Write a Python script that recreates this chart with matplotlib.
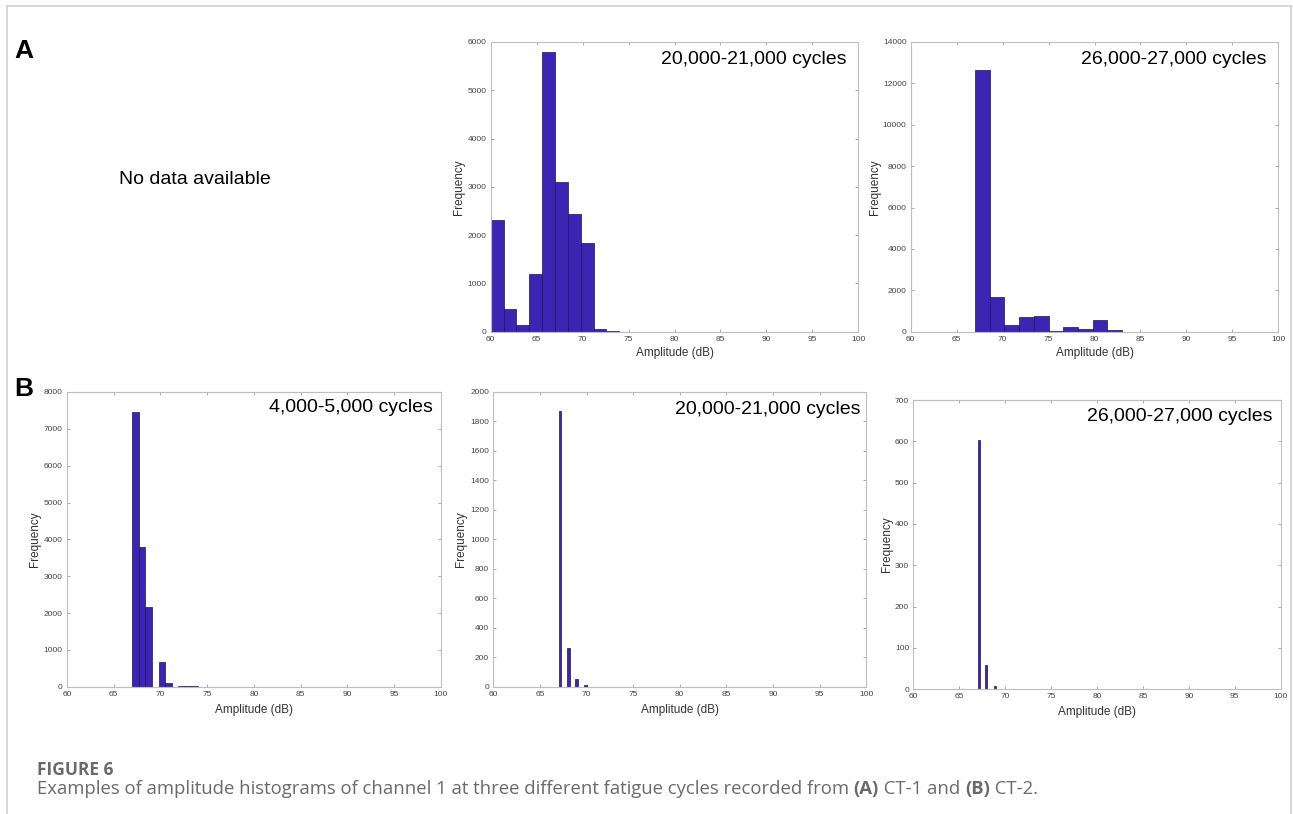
import matplotlib
matplotlib.use("Agg")
import matplotlib.pyplot as plt
from matplotlib.lines import Line2D

# ---- histogram data (bin left edges in dB, counts) ----
a2_lefts = [60.0, 61.4, 62.8, 64.2, 65.6, 67.0, 68.4, 69.8, 71.2, 72.6]
a2_counts = [2320, 475, 145, 1185, 5800, 3105, 2445, 1830, 48, 12]

a3_lefts = [67.0, 68.6, 70.2, 71.8, 73.4, 75.0, 76.6, 78.2, 79.8, 81.4]
a3_counts = [12630, 1660, 340, 690, 755, 48, 210, 130, 580, 65]

b1_lefts = [67.0, 67.7, 68.4, 69.1, 69.8, 70.5, 71.2, 71.9, 72.6, 73.3]
b1_counts = [7455, 3800, 2170, 0, 670, 100, 0, 15, 10, 10]

b2_lefts = [67.0, 67.9, 68.8, 69.7]
b2_counts = [1872, 262, 52, 9]

b3_lefts = [67.0, 67.8, 68.75]
b3_counts = [603, 60, 8]

titles = ["20,000-21,000 cycles", "26,000-27,000 cycles",
          "4,000-5,000 cycles", "20,000-21,000 cycles", "26,000-27,000 cycles"]
x_ticks = [60, 65, 70, 75, 80, 85, 90, 95, 100]

BAR = "#3b25b2"
EDGE = "#1f1263"
SPINE = "#bdbdbd"
TICKLAB = "#444444"

plt.rcParams["font.family"] = ["Liberation Sans", "DejaVu Sans"]

W, H = 1293, 814
fig = plt.figure(figsize=(W / 100, H / 100), dpi=100)


def px_rect(left, top, right, bottom):
    return [left / W, 1 - bottom / H, (right - left) / W, (bottom - top) / H]


def hist_panel(rect, lefts, counts, width, ymax, ystep, title, title_off, ylab_px, xlab_px):
    ax = fig.add_axes(px_rect(*rect))
    ax.bar(lefts, counts, width=width, align="edge", color=BAR,
           edgecolor=EDGE, linewidth=0.5, zorder=2)
    ax.set_xlim(60, 100)
    ax.set_ylim(0, ymax)
    ax.set_xticks(x_ticks)
    ax.set_yticks(range(0, ymax + 1, ystep))
    for s in ax.spines.values():
        s.set_color(SPINE)
        s.set_linewidth(0.8)
    ax.tick_params(direction="in", length=2.5, width=0.6, color="#9a9a9a",
                   top=True, right=True, labelsize=6, labelcolor=TICKLAB, pad=3)
    ax.set_xlabel("Amplitude (dB)", fontsize=8.5, color="#333333")
    ax.set_ylabel("Frequency", fontsize=8.5, color="#333333")
    pw = (rect[2] - rect[0])
    ph = (rect[3] - rect[1])
    ax.xaxis.set_label_coords(0.5, -xlab_px / ph)
    ax.xaxis.label.set_va("center")
    ax.yaxis.set_label_coords(-ylab_px / pw, 0.5)
    ax.yaxis.label.set_va("center")
    ax.annotate(title, xy=(1, 1), xycoords="axes fraction",
                xytext=(-title_off[0] * 0.72, -title_off[1] * 0.72),
                textcoords="offset points", ha="right", va="center",
                fontsize=14, color="black")
    return ax


hist_panel((490.7, 42, 858.3, 331.7), a2_lefts, a2_counts, 1.4, 6000, 1000,
           titles[0], (12, 18), 31.7, 21.3)
hist_panel((910.7, 42, 1278.3, 331.7), a3_lefts, a3_counts, 1.6, 14000, 2000,
           titles[1], (12, 18), 36, 21.3)
hist_panel((67, 392, 440.7, 686.7), b1_lefts, b1_counts, 0.7, 8000, 1000,
           titles[2], (8, 16), 32, 23.3)
hist_panel((493.3, 392, 866.3, 686.7), b2_lefts, b2_counts, 0.3, 2000, 200,
           titles[3], (5.6, 17), 32.6, 23.3)
hist_panel((913.3, 400, 1280.7, 689.3), b3_lefts, b3_counts, 0.22, 700, 100,
           titles[4], (8.4, 16), 26, 22.4)

# panel letters and the empty slot
fig.text(14 / W, 1 - 51 / H, "A", fontsize=19, fontweight="bold", va="center", ha="left")
fig.text(14 / W, 1 - 389 / H, "B", fontsize=19, fontweight="bold", va="center", ha="left")
fig.text(119 / W, 1 - 184 / H, "No data available", fontsize=14, va="baseline", ha="left")

# outer frame
frame_kw = dict(color="#cfcfcf", linewidth=1.2, transform=fig.transFigure)
fig.add_artist(Line2D([7 / W, 7 / W], [0, 1 - 6 / H], **frame_kw))
fig.add_artist(Line2D([7 / W, 1291 / W], [1 - 6 / H, 1 - 6 / H], **frame_kw))
fig.add_artist(Line2D([1291 / W, 1291 / W], [0, 1 - 6 / H], **frame_kw))

# caption
CAP = "#6a6a6a"
cap_family = ["Open Sans", "DejaVu Sans"]
fig.text(37 / W, 1 - 775 / H, "FIGURE 6", fontsize=12.5, fontweight="bold",
         color=CAP, family=cap_family, va="baseline", ha="left")

pieces = [
    ("Examples of amplitude histograms of channel 1 at three different fatigue cycles recorded from ", "normal"),
    ("(A)", "bold"),
    (" CT-1 and ", "normal"),
    ("(B)", "bold"),
    (" CT-2.", "normal"),
]
renderer = fig.canvas.get_renderer()
x = 37.0
for txt, wt in pieces:
    t = fig.text(x / W, 1 - 794 / H, txt, fontsize=13.3, fontweight=wt,
                 color=CAP, family=cap_family, va="baseline", ha="left")
    bb = t.get_window_extent(renderer=renderer)
    x = bb.x1

fig.savefig("out.png", dpi=100)
